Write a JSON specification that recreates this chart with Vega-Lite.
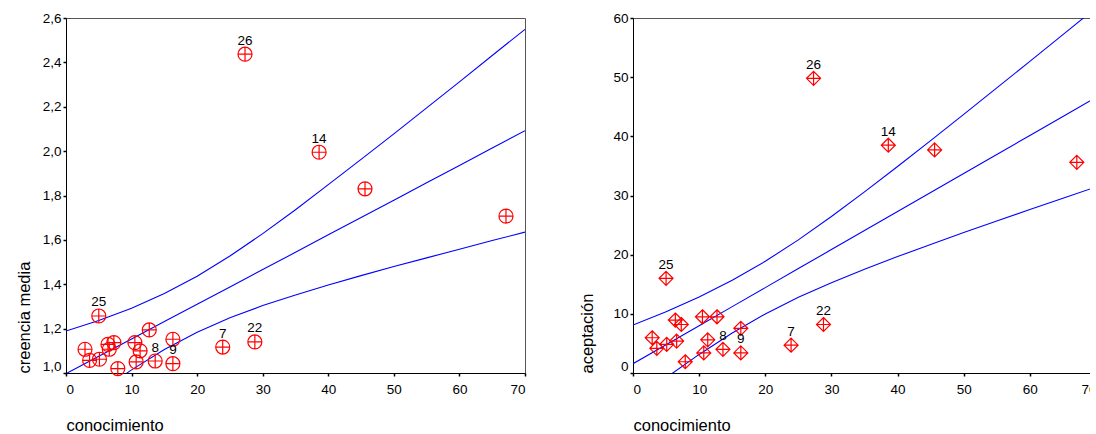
{
  "$schema": "https://vega.github.io/schema/vega-lite/v6.json",
  "background": "white",
  "padding": {"left": 15, "top": 10, "right": -8, "bottom": 0},
  "spacing": 52,
  "datasets": {
    "pts": [
      {"id": "", "conocimiento": 2.9, "creencia": 1.107, "aceptacion": 5.96},
      {"id": "", "conocimiento": 3.6, "creencia": 1.057, "aceptacion": 4.17},
      {"id": "25", "conocimiento": 5.0, "creencia": 1.257, "aceptacion": 16.0},
      {"id": "", "conocimiento": 5.1, "creencia": 1.062, "aceptacion": 4.84},
      {"id": "", "conocimiento": 6.4, "creencia": 1.129, "aceptacion": 8.95},
      {"id": "", "conocimiento": 6.6, "creencia": 1.107, "aceptacion": 5.4},
      {"id": "", "conocimiento": 7.3, "creencia": 1.137, "aceptacion": 8.2},
      {"id": "", "conocimiento": 7.9, "creencia": 1.02, "aceptacion": 1.9},
      {"id": "", "conocimiento": 10.5, "creencia": 1.137, "aceptacion": 9.5},
      {"id": "", "conocimiento": 10.7, "creencia": 1.05, "aceptacion": 3.4},
      {"id": "", "conocimiento": 11.3, "creencia": 1.1, "aceptacion": 5.6},
      {"id": "", "conocimiento": 12.7, "creencia": 1.194, "aceptacion": 9.5},
      {"id": "8", "conocimiento": 13.6, "creencia": 1.054, "aceptacion": 4.0},
      {"id": "", "conocimiento": 16.3, "creencia": 1.152, "aceptacion": 7.55},
      {"id": "9", "conocimiento": 16.3, "creencia": 1.042, "aceptacion": 3.4},
      {"id": "7", "conocimiento": 23.9, "creencia": 1.117, "aceptacion": 4.7},
      {"id": "26", "conocimiento": 27.3, "creencia": 2.437, "aceptacion": 49.8},
      {"id": "22", "conocimiento": 28.8, "creencia": 1.14, "aceptacion": 8.2},
      {"id": "14", "conocimiento": 38.6, "creencia": 1.995, "aceptacion": 38.5},
      {"id": "", "conocimiento": 45.6, "creencia": 1.83, "aceptacion": 37.7},
      {"id": "", "conocimiento": 67.1, "creencia": 1.707, "aceptacion": 35.6}
    ],
    "fit1": [
      {"x": 0, "lo": 0.805, "mid": 0.997, "hi": 1.189},
      {"x": 5, "lo": 0.913, "mid": 1.075, "hi": 1.237},
      {"x": 10, "lo": 1.014, "mid": 1.153, "hi": 1.292},
      {"x": 15, "lo": 1.106, "mid": 1.232, "hi": 1.358},
      {"x": 20, "lo": 1.184, "mid": 1.31, "hi": 1.436},
      {"x": 25, "lo": 1.249, "mid": 1.388, "hi": 1.527},
      {"x": 30, "lo": 1.304, "mid": 1.466, "hi": 1.628},
      {"x": 35, "lo": 1.352, "mid": 1.544, "hi": 1.736},
      {"x": 40, "lo": 1.397, "mid": 1.623, "hi": 1.849},
      {"x": 45, "lo": 1.439, "mid": 1.701, "hi": 1.963},
      {"x": 50, "lo": 1.48, "mid": 1.779, "hi": 2.078},
      {"x": 55, "lo": 1.519, "mid": 1.857, "hi": 2.195},
      {"x": 60, "lo": 1.558, "mid": 1.935, "hi": 2.312},
      {"x": 65, "lo": 1.597, "mid": 2.014, "hi": 2.431},
      {"x": 70, "lo": 1.635, "mid": 2.092, "hi": 2.549}
    ],
    "fit2": [
      {"x": 0, "lo": -4.96, "mid": 1.57, "hi": 8.1},
      {"x": 5, "lo": -0.8, "mid": 4.785, "hi": 10.37},
      {"x": 10, "lo": 3.14, "mid": 8.0, "hi": 12.86},
      {"x": 15, "lo": 6.77, "mid": 11.215, "hi": 15.66},
      {"x": 20, "lo": 9.98, "mid": 14.43, "hi": 18.88},
      {"x": 25, "lo": 12.79, "mid": 17.645, "hi": 22.5},
      {"x": 30, "lo": 15.27, "mid": 20.86, "hi": 26.45},
      {"x": 35, "lo": 17.55, "mid": 24.075, "hi": 30.61},
      {"x": 40, "lo": 19.68, "mid": 27.29, "hi": 34.9},
      {"x": 45, "lo": 21.73, "mid": 30.505, "hi": 39.28},
      {"x": 50, "lo": 23.73, "mid": 33.72, "hi": 43.71},
      {"x": 55, "lo": 25.69, "mid": 36.935, "hi": 48.18},
      {"x": 60, "lo": 27.62, "mid": 40.15, "hi": 52.68},
      {"x": 65, "lo": 29.54, "mid": 43.365, "hi": 57.19},
      {"x": 70, "lo": 31.44, "mid": 46.58, "hi": 61.72}
    ]
  },
  "config": {
    "view": {"stroke": "#555555", "strokeWidth": 1},
    "axis": {
      "grid": false,
      "domainColor": "black",
      "domainWidth": 1,
      "tickColor": "black",
      "tickSize": 3,
      "tickWidth": 1.5,
      "labelFont": "Liberation Sans",
      "labelFontSize": 13.5,
      "labelColor": "black",
      "titleFont": "Liberation Sans",
      "titleFontSize": 16.5,
      "titleFontWeight": "normal",
      "titleColor": "black"
    },
    "axisX": {"labelPadding": 6, "titleAnchor": "start", "titlePadding": 22, "titleAlign": "left"},
    "axisY": {"labelPadding": 2, "titleAnchor": "start", "titleAlign": "left"}
  },
  "hconcat": [
    {
      "width": 459,
      "height": 355,
      "layer": [
        {
          "data": {"name": "fit1"},
          "mark": {"type": "line", "color": "#0000ff", "strokeWidth": 1.1, "clip": true},
          "encoding": {
            "x": {"field": "x", "type": "quantitative", "scale": {"domain": [0, 70], "nice": false}, "axis": {"title": "conocimiento", "values": [0, 10, 20, 30, 40, 50, 60, 70]}},
            "y": {"field": "hi", "type": "quantitative", "scale": {"domain": [1.0, 2.6], "nice": false, "zero": false}, "axis": {"title": "creencia media", "titlePadding": 10, "values": [1.0, 1.2, 1.4, 1.6, 1.8, 2.0, 2.2, 2.4, 2.6], "labelExpr": "replace(format(datum.value, '.1f'), '.', ',')", "labelOffset": {"condition": {"test": "datum.value < 1.05", "value": -7}, "value": 0}}}
          }
        },
        {
          "data": {"name": "fit1"},
          "mark": {"type": "line", "color": "#0000ff", "strokeWidth": 1.1, "clip": true},
          "encoding": {
            "x": {"field": "x", "type": "quantitative"},
            "y": {"field": "mid", "type": "quantitative"}
          }
        },
        {
          "data": {"name": "fit1"},
          "mark": {"type": "line", "color": "#0000ff", "strokeWidth": 1.1, "clip": true},
          "encoding": {
            "x": {"field": "x", "type": "quantitative"},
            "y": {"field": "lo", "type": "quantitative"}
          }
        },
        {
          "data": {"name": "pts"},
          "mark": {"type": "point", "shape": "M1,0A1,1,0,1,1,-1,0A1,1,0,1,1,1,0ZM-1,0L1,0M0,-1L0,1", "filled": false, "color": "#ff0000", "strokeWidth": 1.2, "size": 196, "opacity": 1},
          "encoding": {
            "x": {"field": "conocimiento", "type": "quantitative"},
            "y": {"field": "creencia", "type": "quantitative"}
          }
        },
        {
          "data": {"name": "pts"},
          "transform": [{"filter": "datum.id != ''"}],
          "mark": {"type": "text", "font": "Liberation Sans", "fontSize": 13.5, "color": "black", "baseline": "middle", "align": "center", "dy": -13.5},
          "encoding": {
            "x": {"field": "conocimiento", "type": "quantitative"},
            "y": {"field": "creencia", "type": "quantitative"},
            "text": {"field": "id"}
          }
        }
      ]
    },
    {
      "width": 463,
      "height": 355,
      "layer": [
        {
          "data": {"name": "fit2"},
          "mark": {"type": "line", "color": "#0000ff", "strokeWidth": 1.1, "clip": true},
          "encoding": {
            "x": {"field": "x", "type": "quantitative", "scale": {"domain": [0, 70], "nice": false}, "axis": {"title": "conocimiento", "values": [0, 10, 20, 30, 40, 50, 60, 70]}},
            "y": {"field": "hi", "type": "quantitative", "scale": {"domain": [0, 60], "nice": false}, "axis": {"title": "aceptación", "titlePadding": 17, "values": [0, 10, 20, 30, 40, 50, 60], "labelOffset": {"condition": {"test": "datum.value < 1", "value": -7}, "value": 0}}}
          }
        },
        {
          "data": {"name": "fit2"},
          "mark": {"type": "line", "color": "#0000ff", "strokeWidth": 1.1, "clip": true},
          "encoding": {
            "x": {"field": "x", "type": "quantitative"},
            "y": {"field": "mid", "type": "quantitative"}
          }
        },
        {
          "data": {"name": "fit2"},
          "mark": {"type": "line", "color": "#0000ff", "strokeWidth": 1.1, "clip": true},
          "encoding": {
            "x": {"field": "x", "type": "quantitative"},
            "y": {"field": "lo", "type": "quantitative"}
          }
        },
        {
          "data": {"name": "pts"},
          "mark": {"type": "point", "shape": "M0,-1L1,0L0,1L-1,0ZM-1,0L1,0M0,-1L0,1", "filled": false, "color": "#ff0000", "strokeWidth": 1.2, "size": 196, "opacity": 1},
          "encoding": {
            "x": {"field": "conocimiento", "type": "quantitative"},
            "y": {"field": "aceptacion", "type": "quantitative"}
          }
        },
        {
          "data": {"name": "pts"},
          "transform": [{"filter": "datum.id != ''"}],
          "mark": {"type": "text", "font": "Liberation Sans", "fontSize": 13.5, "color": "black", "baseline": "middle", "align": "center", "dy": -13.5},
          "encoding": {
            "x": {"field": "conocimiento", "type": "quantitative"},
            "y": {"field": "aceptacion", "type": "quantitative"},
            "text": {"field": "id"}
          }
        }
      ]
    }
  ]
}
